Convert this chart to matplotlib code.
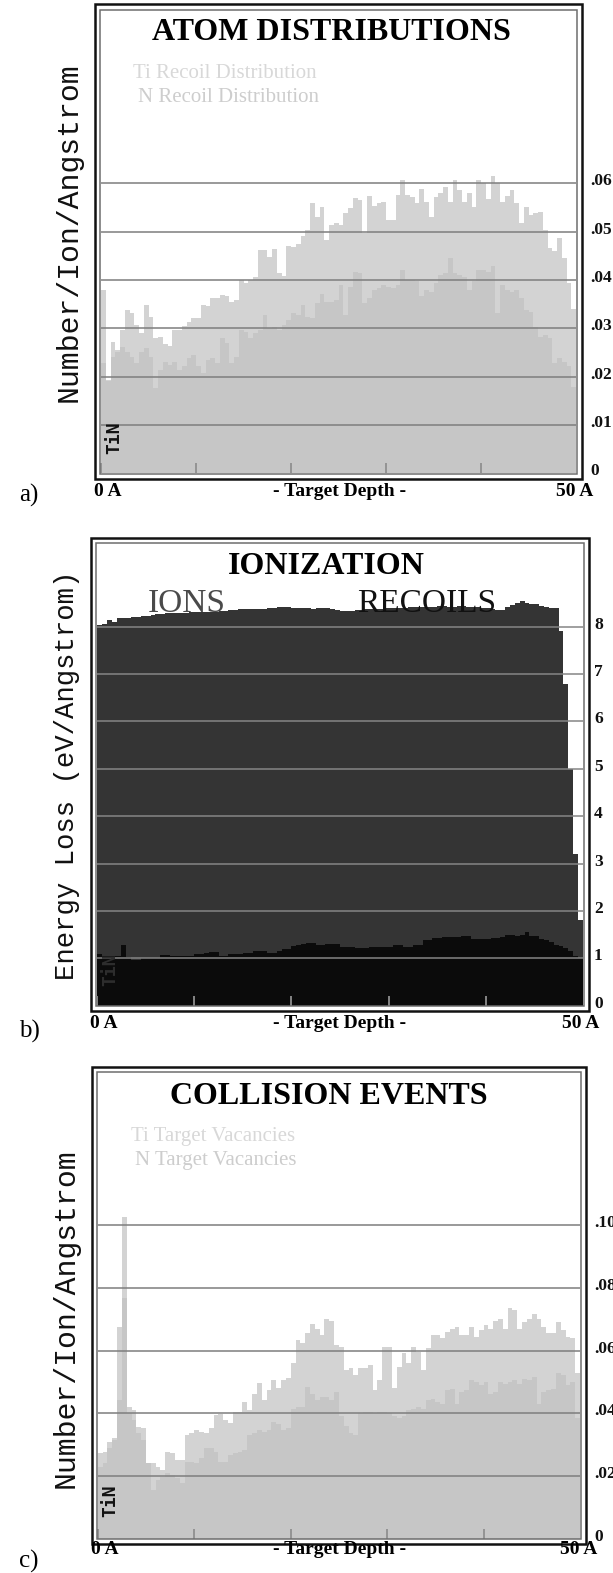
import matplotlib
matplotlib.use("Agg")
import matplotlib.pyplot as plt
from matplotlib.patches import Rectangle
from matplotlib.transforms import blended_transform_factory, offset_copy
import numpy as np

W, H = 613, 1573
SERIF = "Liberation Serif"
MONO = "Liberation Mono"

# depth bins: 100 bins of 0.5 A from 0 to 50 A
depth_edges = np.linspace(0, 50, 101)
depth_ticks = [0, 10, 20, 30, 40]

# a) atom distributions (atoms/ion/A)
ti_recoil = [
    .0379, .0193, .0272, .0255, .0297, .0338, .0332, .0307, .0290, .0348,
    .0324, .0279, .0283, .0268, .0263, .0297, .0297, .0305, .0314, .0321,
    .0321, .0348, .0346, .0362, .0362, .0369, .0366, .0355, .0359, .0400,
    .0393, .0400, .0406, .0461, .0462, .0448, .0464, .0414, .0408, .0470,
    .0468, .0474, .0490, .0503, .0559, .0531, .0552, .0483, .0514, .0517,
    .0514, .0538, .0548, .0569, .0566, .0497, .0574, .0553, .0559, .0562,
    .0524, .0524, .0576, .0607, .0576, .0571, .0559, .0588, .0562, .0531,
    .0572, .0581, .0592, .0562, .0607, .0586, .0562, .0581, .0552, .0607,
    .0601, .0567, .0615, .0600, .0562, .0574, .0586, .0559, .0517, .0552,
    .0534, .0538, .0541, .0503, .0466, .0459, .0486, .0445, .0393, .0340]
n_recoil = [
    .0228, .0190, .0241, .0252, .0262, .0252, .0241, .0228, .0252, .0259,
    .0241, .0176, .0214, .0231, .0224, .0231, .0214, .0221, .0238, .0245,
    .0221, .0207, .0234, .0238, .0228, .0279, .0269, .0228, .0241, .0297,
    .0293, .0279, .0290, .0297, .0328, .0300, .0303, .0297, .0307, .0317,
    .0331, .0328, .0348, .0324, .0321, .0352, .0372, .0355, .0355, .0359,
    .0390, .0328, .0386, .0417, .0414, .0352, .0362, .0379, .0383, .0390,
    .0386, .0383, .0390, .0421, .0400, .0400, .0397, .0366, .0379, .0376,
    .0393, .0410, .0414, .0445, .0414, .0410, .0407, .0379, .0397, .0421,
    .0421, .0417, .0428, .0331, .0390, .0379, .0376, .0379, .0362, .0338,
    .0334, .0303, .0283, .0286, .0279, .0228, .0238, .0231, .0221, .0179]

# b) ionization (eV/A)
ion_loss = [
    8.03, 8.06, 8.15, 8.11, 8.18, 8.18, 8.19, 8.20, 8.21, 8.23,
    8.23, 8.25, 8.26, 8.26, 8.28, 8.29, 8.29, 8.30, 8.30, 8.31,
    8.31, 8.31, 8.32, 8.32, 8.32, 8.33, 8.34, 8.35, 8.35, 8.37,
    8.37, 8.37, 8.37, 8.37, 8.38, 8.39, 8.40, 8.42, 8.41, 8.41,
    8.40, 8.39, 8.39, 8.39, 8.38, 8.39, 8.40, 8.39, 8.37, 8.36,
    8.33, 8.33, 8.33, 8.35, 8.36, 8.37, 8.37, 8.38, 8.38, 8.39,
    8.39, 8.40, 8.40, 8.40, 8.41, 8.41, 8.41, 8.42, 8.42, 8.42,
    8.43, 8.43, 8.42, 8.42, 8.43, 8.43, 8.42, 8.42, 8.41, 8.40,
    8.39, 8.37, 8.35, 8.35, 8.42, 8.45, 8.50, 8.54, 8.50, 8.49,
    8.47, 8.44, 8.42, 8.40, 8.39, 7.90, 6.80, 5.00, 3.20, 1.80]
recoil_loss = [
    1.10, 1.05, 1.05, 1.05, 1.05, 1.28, 1.035, 0.965, 0.965, 1.00,
    1.00, 1.00, 1.00, 1.07, 1.07, 1.05, 1.05, 1.05, 1.05, 1.05,
    1.09, 1.09, 1.11, 1.14, 1.14, 1.05, 1.05, 1.085, 1.085, 1.085,
    1.106, 1.106, 1.162, 1.162, 1.162, 1.12, 1.12, 1.15, 1.19, 1.19,
    1.25, 1.28, 1.30, 1.33, 1.33, 1.28, 1.28, 1.296, 1.296, 1.296,
    1.232, 1.232, 1.23, 1.211, 1.211, 1.22, 1.232, 1.232, 1.232, 1.232,
    1.232, 1.282, 1.282, 1.246, 1.246, 1.282, 1.282, 1.387, 1.39, 1.422,
    1.422, 1.44, 1.457, 1.457, 1.457, 1.465, 1.472, 1.401, 1.401, 1.401,
    1.41, 1.422, 1.422, 1.44, 1.493, 1.493, 1.472, 1.50, 1.563, 1.472,
    1.472, 1.40, 1.387, 1.35, 1.282, 1.25, 1.211, 1.15, 1.05, 1.00]

# c) collision events (vacancies/ion/A)
ti_vacancy = [
    .0272, .0278, .0309, .0320, .0676, .1027, .0421, .0411, .0357, .0352,
    .0240, .0240, .0230, .0219, .0278, .0272, .0251, .0251, .0331, .0336,
    .0346, .0341, .0336, .0352, .0394, .0399, .0378, .0370, .0405, .0405,
    .0436, .0411, .0463, .0497, .0442, .0473, .0506, .0480, .0506, .0512,
    .0559, .0634, .0623, .0655, .0686, .0670, .0649, .0702, .0696, .0618,
    .0612, .0538, .0543, .0521, .0543, .0543, .0554, .0474, .0506, .0612,
    .0612, .0480, .0549, .0591, .0559, .0612, .0596, .0538, .0607, .0650,
    .0650, .0639, .0660, .0670, .0676, .0650, .0650, .0676, .0644, .0665,
    .0681, .0670, .0696, .0702, .0670, .0735, .0729, .0670, .0691, .0702,
    .0718, .0702, .0676, .0655, .0655, .0691, .0665, .0644, .0639, .0527]
n_vacancy = [
    .0230, .0240, .0289, .0315, .0442, .0768, .0400, .0378, .0336, .0315,
    .0240, .0155, .0187, .0198, .0208, .0203, .0193, .0177, .0246, .0246,
    .0240, .0256, .0289, .0289, .0277, .0246, .0246, .0267, .0272, .0277,
    .0283, .0331, .0336, .0346, .0341, .0346, .0373, .0367, .0346, .0352,
    .0415, .0421, .0421, .0484, .0463, .0442, .0452, .0452, .0442, .0468,
    .0390, .0359, .0336, .0331, .0400, .0405, .0405, .0400, .0405, .0405,
    .0400, .0390, .0385, .0390, .0410, .0415, .0421, .0415, .0442, .0447,
    .0436, .0431, .0473, .0478, .0431, .0468, .0473, .0506, .0500, .0490,
    .0500, .0463, .0468, .0500, .0495, .0500, .0506, .0495, .0511, .0506,
    .0516, .0431, .0468, .0473, .0478, .0527, .0522, .0490, .0500, .0384]

grid_a = [.01, .02, .03, .04, .05, .06]
labels_a = [".01", ".02", ".03", ".04", ".05", ".06"]
grid_b = [1, 2, 3, 4, 5, 6, 7, 8]
labels_b = ["1", "2", "3", "4", "5", "6", "7", "8"]
grid_c = [.02, .04, .06, .08, .10]
labels_c = [".02", ".04", ".06", ".08", ".10"]

fig = plt.figure(figsize=(W / 100, H / 100), dpi=100)


def fx(x):
    return x / W


def fy(y):
    return 1 - y / H


def ftext(x, y, s, **kw):
    fig.text(fx(x), fy(y), s, **kw)


def make_panel(x0, x50, y0, ytop, per_unit):
    ax = fig.add_axes([fx(x0), fy(y0), (x50 - x0) / W, (y0 - ytop) / H])
    ax.set_xlim(0, 50)
    ax.set_ylim(0, (y0 - ytop) / per_unit)
    for s in ax.spines.values():
        s.set_visible(False)
    ax.set_yticks([])
    ax.set_xticks(depth_ticks)
    ax.tick_params(axis="x", direction="in", length=7, width=1.2,
                   labelbottom=False)
    ax.set_axisbelow(False)
    # double frame
    pad = 5
    fig.add_artist(Rectangle((fx(x0 - 1), fy(y0 + 0.5)), (x50 - x0 + 2) / W,
                             (y0 - ytop + 1) / H, transform=fig.transFigure,
                             fill=False, ec="#6e6e6e", lw=1.1))
    fig.add_artist(Rectangle((fx(x0 - 1 - pad), fy(y0 + 0.5 + pad)),
                             (x50 - x0 + 2 + 2 * pad) / W,
                             (y0 - ytop + 1 + 2 * pad) / H,
                             transform=fig.transFigure,
                             fill=False, ec="#111111", lw=1.8))
    return ax


def gridlines(ax, values, labels, color, xlab):
    tr = blended_transform_factory(fig.transFigure, ax.transData)
    tr = offset_copy(tr, fig=fig, y=-2, units="dots")
    for v in values:
        ax.axhline(v, color=color, lw=1.1, zorder=3)
    for v, s in zip(values + [0], labels + ["0"]):
        ax.text(fx(xlab), v, s, transform=tr, ha="left", va="baseline",
                fontsize=12.5, fontweight="bold", family=SERIF,
                color="#111111")


def depth_labels(x0, x50, y):
    ftext(x0 - 7, y, "0 A", ha="left", va="center", fontsize=14,
          fontweight="bold", family=SERIF)
    ftext(340, y, "- Target Depth -", ha="center", va="center",
          fontsize=14, fontweight="bold", family=SERIF)
    ftext(x50 + 17, y, "50 A", ha="right", va="center", fontsize=14,
          fontweight="bold", family=SERIF)


# ---------------- a) ATOM DISTRIBUTIONS ----------------
ax = make_panel(101.2, 576.2, 473.3, 10, 4833)
ax.stairs(ti_recoil, depth_edges, fill=True, color="#d3d3d3", lw=0)
ax.stairs(n_recoil, depth_edges, fill=True, color="#c6c6c6", lw=0)
ax.tick_params(axis="x", colors="#8a8a8a")
gridlines(ax, grid_a, labels_a, "#7d7d7d", 590)
depth_labels(101.2, 576.2, 492)
ftext(331, 33, "ATOM DISTRIBUTIONS", ha="center", va="center",
      fontsize=23, fontweight="bold", family=SERIF)
ftext(133, 74, "Ti Recoil Distribution", ha="left", va="center",
      fontsize=15, family=SERIF, color="#d8d8d8")
ftext(138, 97, "N Recoil Distribution", ha="left", va="center",
      fontsize=15, family=SERIF, color="#cdcdcd")
ftext(69, 232, "Number/Ion/Angstrom", rotation=90, ha="center", va="center",
      fontsize=21.5, family=MONO, color="#111111")
ftext(114, 438, "TiN", rotation=90, ha="center", va="center", fontsize=13,
      fontweight="bold", family="DejaVu Sans Mono", color="#111111")
ftext(19, 495, "a)", ha="left", va="center", fontsize=18, family=SERIF)

# ---------------- b) IONIZATION ----------------
ax = make_panel(97.2, 582.8, 1005.7, 543, 47.37)
ax.stairs(ion_loss, depth_edges, fill=True, color="#343434", lw=0)
ax.stairs(recoil_loss, depth_edges, fill=True, color="#0b0b0b", lw=0)
ax.tick_params(axis="x", colors="#9a9a9a")
gridlines(ax, grid_b, labels_b, "#858585", 594)
depth_labels(97.2, 582.8, 1024)
ftext(326, 567, "IONIZATION", ha="center", va="center",
      fontsize=23, fontweight="bold", family=SERIF)
ftext(148, 604, "IONS", ha="left", va="center", fontsize=24,
      family=SERIF, color="#4a4a4a")
ftext(357, 604, "RECOILS", ha="left", va="center", fontsize=24,
      family=SERIF, color="#111111")
ftext(67, 775, "Energy Loss (eV/Angstrom)", rotation=90, ha="center",
      va="center", fontsize=19.7, family=MONO, color="#111111")
ftext(110, 970, "TiN", rotation=90, ha="center", va="center", fontsize=13,
      fontweight="bold", family="DejaVu Sans Mono", color="#2e2e2e")
ftext(19, 1031, "b)", ha="left", va="center", fontsize=18, family=SERIF)

# ---------------- c) COLLISION EVENTS ----------------
ax = make_panel(97.8, 580.0, 1538.7, 1072, 3135)
ax.stairs(ti_vacancy, depth_edges, fill=True, color="#d3d3d3", lw=0)
ax.stairs(n_vacancy, depth_edges, fill=True, color="#c6c6c6", lw=0)
ax.tick_params(axis="x", colors="#8a8a8a")
gridlines(ax, grid_c, labels_c, "#7d7d7d", 594)
depth_labels(97.8, 580.0, 1549)
ftext(329, 1097, "COLLISION EVENTS", ha="center", va="center",
      fontsize=23, fontweight="bold", family=SERIF)
ftext(131, 1137, "Ti Target Vacancies", ha="left", va="center",
      fontsize=15, family=SERIF, color="#d8d8d8")
ftext(135, 1160, "N Target Vacancies", ha="left", va="center",
      fontsize=15, family=SERIF, color="#cdcdcd")
ftext(66, 1318, "Number/Ion/Angstrom", rotation=90, ha="center",
      va="center", fontsize=21.5, family=MONO, color="#111111")
ftext(110, 1501, "TiN", rotation=90, ha="center", va="center", fontsize=13,
      fontweight="bold", family="DejaVu Sans Mono", color="#111111")
ftext(19, 1561, "c)", ha="left", va="center", fontsize=18, family=SERIF)

fig.savefig("out.png", dpi=100)
